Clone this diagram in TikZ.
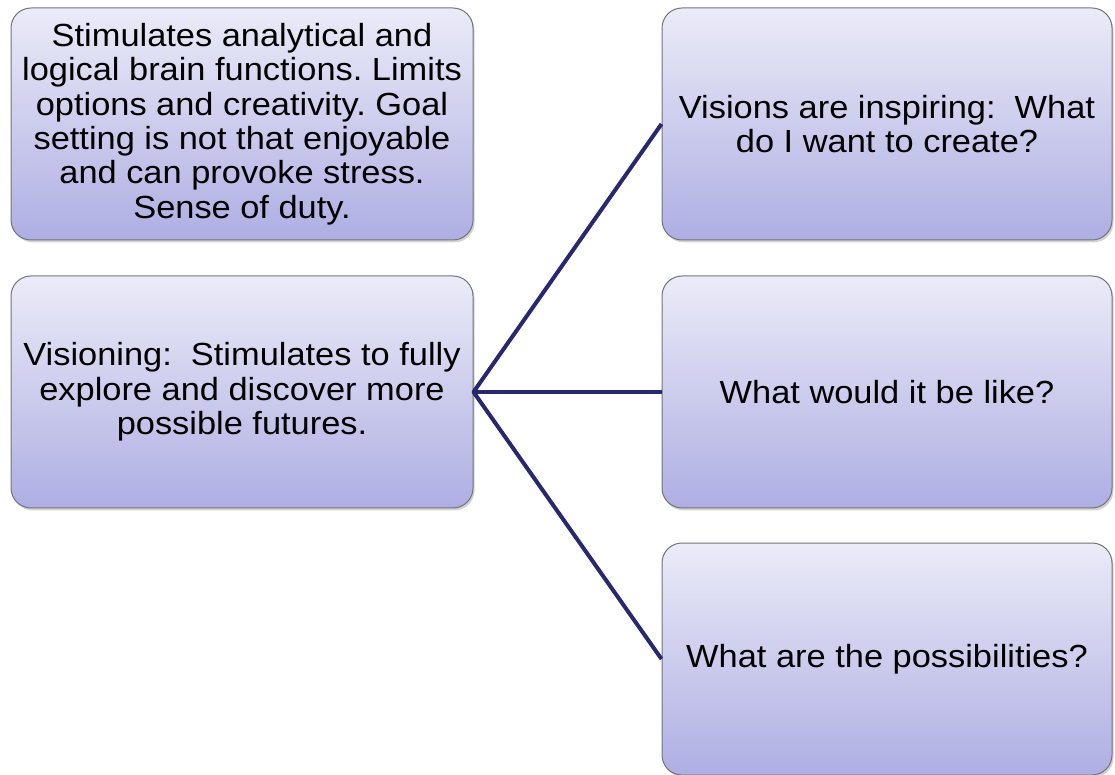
\documentclass[tikz,border=0pt]{standalone}
\usepackage{fontspec}
\setmainfont{Liberation Sans}[FakeStretch=1.075]
\usetikzlibrary{positioning, shadows}
\frenchspacing

\definecolor{boxtop}{RGB}{235,235,248}
\definecolor{boxbottom}{RGB}{174,174,227}
\definecolor{boxline}{RGB}{115,115,125}
\definecolor{navy}{RGB}{40,40,112}

\begin{document}
\begin{tikzpicture}[x=0.5pt, y=0.5pt,
    box/.style={draw=boxline, line width=0.5pt, rounded corners=10pt,
        top color=boxtop, bottom color=boxbottom,
        minimum width=231pt, minimum height=116pt,
        align=center, font=\fontsize{16}{17.2}\selectfont,
        drop shadow={opacity=0.35, shadow xshift=0.8pt, shadow yshift=-1.2pt}},
    link/.style={navy, line width=2pt, line join=round}]

    \useasboundingbox (0,0) rectangle (1115,-775);

    % left column
    \node[box] (goal) at (242,-124) {Stimulates analytical and\\logical brain functions. Limits\\options and creativity. Goal\\setting is not that enjoyable\\and can provoke stress.\\Sense of duty.};
    \node[box] (vision) at (242,-392) {Visioning:~ Stimulates to fully\\explore and discover more\\possible futures.};

    % right column
    \node[box, minimum width=225pt] (inspire) at (887,-124) {Visions are inspiring:~ What\\do I want to create?};
    \node[box, minimum width=225pt] (like) at (887,-392) {What would it be like?};
    \node[box, minimum width=225pt] (possib) at (887,-659) {What are the possibilities?};

    % links
    \draw[link] (inspire.west) -- (vision.east) -- (possib.west);
    \draw[link] (vision.east) -- (like.west);

\end{tikzpicture}
\end{document}
